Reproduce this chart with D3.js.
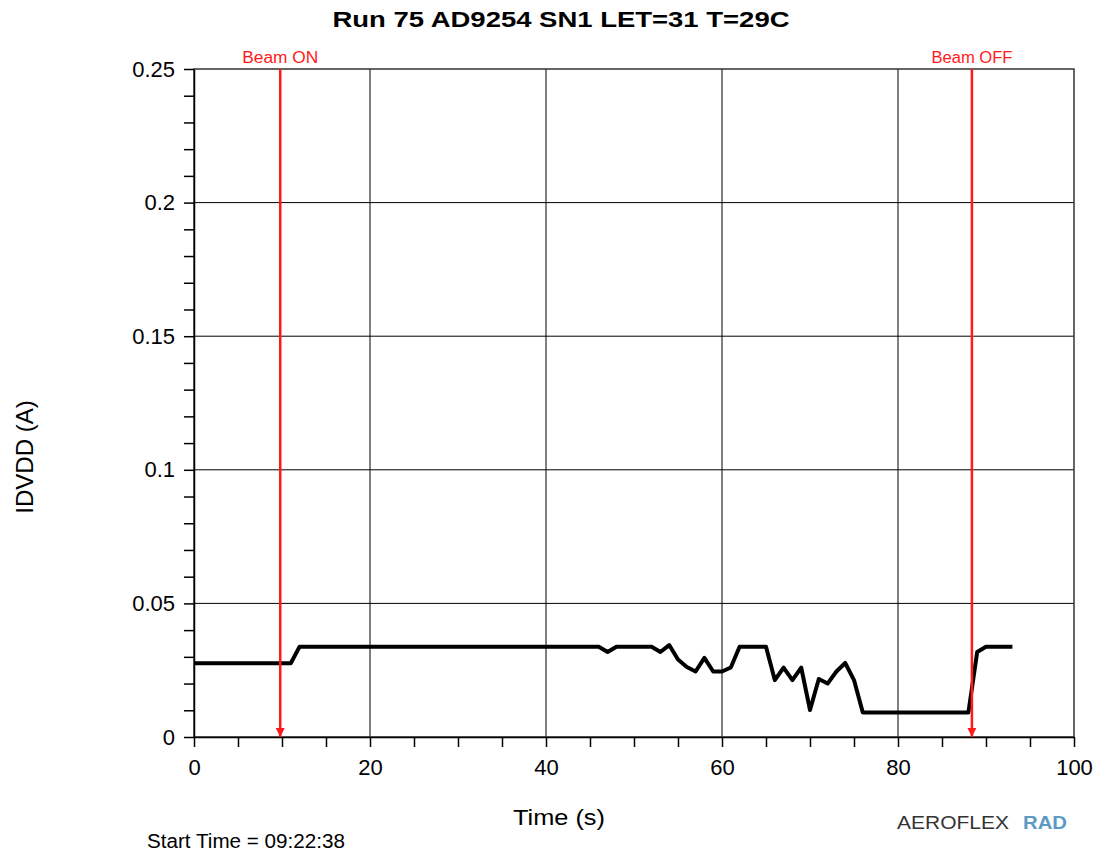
<!DOCTYPE html>
<html>
<head>
<meta charset="utf-8">
<script src="https://cdn.jsdelivr.net/npm/d3@7"></script>
<style>
  body { margin: 0; background: #fff; }
  text { font-family: "Liberation Sans", Arial, sans-serif; }
</style>
</head>
<body>
<div id="chart"></div>
<script>
// sample times (s) and current IDVDD (A), one reading per second
const times = d3.range(0, 94);
const idvdd = [
  0.0276, 0.0276, 0.0276, 0.0276, 0.0276, 0.0276, 0.0276, 0.0276, 0.0276, 0.0276,
  0.0276, 0.0276, 0.0338, 0.0338, 0.0338, 0.0338, 0.0338, 0.0338, 0.0338, 0.0338,
  0.0338, 0.0338, 0.0338, 0.0338, 0.0338, 0.0338, 0.0338, 0.0338, 0.0338, 0.0338,
  0.0338, 0.0338, 0.0338, 0.0338, 0.0338, 0.0338, 0.0338, 0.0338, 0.0338, 0.0338,
  0.0338, 0.0338, 0.0338, 0.0338, 0.0338, 0.0338, 0.0338, 0.0318, 0.0338, 0.0338,
  0.0338, 0.0338, 0.0338, 0.0318, 0.0344, 0.0290, 0.0262, 0.0245, 0.0296, 0.0245,
  0.0245, 0.0260, 0.0338, 0.0338, 0.0338, 0.0338, 0.0213, 0.0260, 0.0213, 0.0260,
  0.0101, 0.0217, 0.0200, 0.0245, 0.0277, 0.0213, 0.0092, 0.0092, 0.0092, 0.0092,
  0.0092, 0.0092, 0.0092, 0.0092, 0.0092, 0.0092, 0.0092, 0.0092, 0.0092, 0.0318,
  0.0338, 0.0338, 0.0338, 0.0338
];

// beam markers
const beamLabels = ["Beam ON", "Beam OFF"];
const beamTimes = [9.8, 88.4];

// axis ticks
const xTicks = [0, 20, 40, 60, 80, 100];
const yTicks = [0, 0.05, 0.1, 0.15, 0.2, 0.25];
const yTickLabels = ["0", "0.05", "0.1", "0.15", "0.2", "0.25"];

const data = times.map((t, i) => ({t: t, v: idvdd[i]}));

const W = 1098, H = 854;
const margin = {top: 69, right: 24, bottom: 117, left: 194},
    width = W - margin.left - margin.right,
    height = H - margin.top - margin.bottom;

const svgRoot = d3.select("#chart").append("svg")
    .attr("width", W).attr("height", H);

// arrow head for the beam lines
svgRoot.append("defs").append("marker")
    .attr("id", "arrow")
    .attr("viewBox", "0 0 10 10")
    .attr("refX", 10).attr("refY", 5)
    .attr("markerWidth", 12).attr("markerHeight", 9)
    .attr("markerUnits", "userSpaceOnUse")
    .attr("orient", "auto")
    .append("path").attr("d", "M0,0 L10,5 L0,10 Z").attr("fill", "#ff1a1a");

const svg = svgRoot.append("g")
    .attr("transform", `translate(${margin.left},${margin.top})`);

const x = d3.scaleLinear().domain([0, 100]).range([0, width]);
const y = d3.scaleLinear().domain([0, 0.25]).range([height, 0]);

// grid
svg.append("g").selectAll("line")
    .data(xTicks.slice(1, -1))
    .join("line")
    .attr("x1", d => x(d)).attr("x2", d => x(d))
    .attr("y1", 0).attr("y2", height)
    .attr("stroke", "#000").attr("stroke-width", 1);

svg.append("g").selectAll("line")
    .data(yTicks.slice(1, -1))
    .join("line")
    .attr("x1", 0).attr("x2", width)
    .attr("y1", d => y(d)).attr("y2", d => y(d))
    .attr("stroke", "#000").attr("stroke-width", 1);

// plot frame
svg.append("rect")
    .attr("x", 0).attr("y", 0).attr("width", width).attr("height", height)
    .attr("fill", "none").attr("stroke", "#333").attr("stroke-width", 1.5);

// axes
const xAxis = svg.append("g")
    .attr("transform", `translate(0,${height})`)
    .call(d3.axisBottom(x).ticks(20).tickSize(10).tickSizeOuter(0)
        .tickFormat(d => xTicks.includes(d) ? d : ""));
xAxis.select(".domain").attr("stroke", "#000").attr("stroke-width", 1.5);
xAxis.selectAll(".tick line").attr("stroke-width", 1.5);
xAxis.selectAll("text")
    .attr("y", 22)
    .style("font-size", "22px").style("fill", "#000");

const yAxis = svg.append("g")
    .call(d3.axisLeft(y).ticks(25).tickSize(10).tickSizeOuter(0)
        .tickFormat(d => {
            const i = yTicks.findIndex(t => Math.abs(t - d) < 1e-9);
            return i >= 0 ? yTickLabels[i] : "";
        }));
yAxis.select(".domain").attr("stroke", "#000").attr("stroke-width", 1.5);
yAxis.selectAll(".tick line").attr("stroke-width", 1.5);
yAxis.selectAll("text")
    .attr("x", -19)
    .style("font-size", "22px").style("fill", "#000");

// data line
svg.append("path")
    .datum(data)
    .attr("fill", "none")
    .attr("stroke", "#000")
    .attr("stroke-width", 4)
    .attr("stroke-linejoin", "round")
    .attr("d", d3.line().x(d => x(d.t)).y(d => y(d.v)));

// beam on/off markers
const beams = svg.append("g").selectAll("g")
    .data(beamTimes)
    .join("g");
beams.append("line")
    .attr("x1", d => x(d)).attr("x2", d => x(d))
    .attr("y1", 0).attr("y2", height)
    .attr("stroke", "#ff1a1a").attr("stroke-width", 2.5)
    .attr("marker-end", "url(#arrow)");
beams.append("text")
    .attr("x", d => x(d)).attr("y", -6)
    .attr("text-anchor", "middle")
    .attr("textLength", (d, i) => i === 0 ? 76 : 81)
    .attr("lengthAdjust", "spacingAndGlyphs")
    .style("font-size", "16px").style("fill", "#ff1a1a")
    .text((d, i) => beamLabels[i]);

// title
svgRoot.append("text")
    .attr("x", 561).attr("y", 27)
    .attr("text-anchor", "middle")
    .attr("textLength", 457)
    .attr("lengthAdjust", "spacingAndGlyphs")
    .style("font-weight", "bold")
    .style("font-size", "22px")
    .text("Run 75 AD9254 SN1 LET=31 T=29C");

// axis labels
svgRoot.append("text")
    .attr("transform", "translate(33,457) rotate(-90)")
    .attr("text-anchor", "middle")
    .style("font-size", "24px")
    .text("IDVDD (A)");

svgRoot.append("text")
    .attr("x", 559).attr("y", 825)
    .attr("text-anchor", "middle")
    .attr("textLength", 92)
    .attr("lengthAdjust", "spacingAndGlyphs")
    .style("font-size", "22px")
    .text("Time (s)");

svgRoot.append("text")
    .attr("x", 147).attr("y", 848)
    .attr("textLength", 198)
    .attr("lengthAdjust", "spacingAndGlyphs")
    .style("font-size", "20px")
    .text("Start Time = 09:22:38");

// logo
const logo = svgRoot.append("g").attr("transform", "translate(897,829)");
logo.append("text")
    .attr("x", 0).attr("y", 0)
    .attr("textLength", 112)
    .attr("lengthAdjust", "spacingAndGlyphs")
    .style("font-size", "19px").style("fill", "#333")
    .text("AEROFLEX");
logo.append("text")
    .attr("x", 126).attr("y", 0)
    .attr("textLength", 44)
    .attr("lengthAdjust", "spacingAndGlyphs")
    .style("font-size", "18px").style("font-weight", "bold").style("fill", "#5b9ac4")
    .text("RAD");
</script>
</body>
</html>
